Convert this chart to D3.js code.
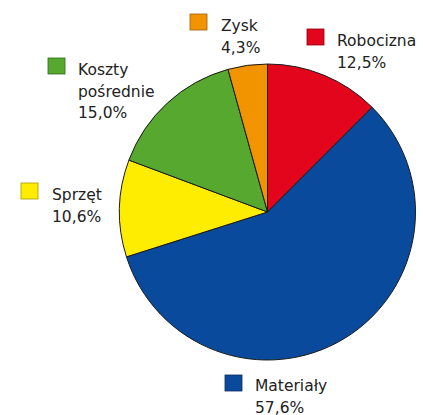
<!DOCTYPE html>
<html><head><meta charset="utf-8">
<script src="https://cdn.jsdelivr.net/npm/d3@7"></script>
<style>
html,body{margin:0;padding:0;background:#fff;}
svg{display:block;}
text{font-family:"DejaVu Sans",Verdana,sans-serif;font-size:15.5px;fill:#222;}
</style></head>
<body>
<svg id="chart" width="423" height="415"></svg>
<script>
// data
const categories = ["Robocizna", "Materiały", "Sprzęt", "Koszty pośrednie", "Zysk"];
const labelLines = [["Robocizna"], ["Materiały"], ["Sprzęt"], ["Koszty", "pośrednie"], ["Zysk"]];
const values = [12.5, 57.6, 10.6, 15.0, 4.3];
const colors = ["#E3051B", "#0A4A9C", "#FFED00", "#56A82E", "#F29400"];
const strokes = ["#8a0010", "#0a2a5c", "#a89a00", "#2f6a18", "#a06000"];

// layout (legend anchor: square top-left x,y; text x)
const legendPos = [
  {sx: 307, sy: 29, tx: 337, ty: 46},
  {sx: 225, sy: 375, tx: 255, ty: 391},
  {sx: 21, sy: 183, tx: 52, ty: 200},
  {sx: 48, sy: 58, tx: 78, ty: 75},
  {sx: 190, sy: 14, tx: 221, ty: 31}
];

const svg = d3.select("#chart");
const cx = 267.5, cy = 212, r = 148;

const pie = d3.pie().sort(null).value(d => d);
const arc = d3.arc().innerRadius(0).outerRadius(r);

const g = svg.append("g").attr("transform", `translate(${cx},${cy})`);
g.selectAll("path").data(pie(values)).join("path")
  .attr("d", arc)
  .attr("fill", (d, i) => colors[i])
  .attr("stroke", "#1a1a1a")
  .attr("stroke-width", 1)
  .attr("stroke-linejoin", "round");

const fmt = v => d3.format(".1f")(v).replace(".", ",") + "%";
const lineH = 21.5;

const leg = svg.selectAll("g.leg").data(categories).join("g").attr("class", "leg");
leg.append("rect")
  .attr("x", (d, i) => legendPos[i].sx)
  .attr("y", (d, i) => legendPos[i].sy)
  .attr("width", 17).attr("height", 16)
  .attr("fill", (d, i) => colors[i])
  .attr("stroke", (d, i) => strokes[i])
  .attr("stroke-width", 0.8);
leg.each(function(d, i) {
  const lines = labelLines[i].concat([fmt(values[i])]);
  const t = d3.select(this).append("text")
    .attr("x", legendPos[i].tx).attr("y", legendPos[i].ty);
  lines.forEach((l, k) => {
    t.append("tspan").attr("x", legendPos[i].tx)
      .attr("y", legendPos[i].ty + k * lineH).text(l);
  });
});
</script>
</body></html>
